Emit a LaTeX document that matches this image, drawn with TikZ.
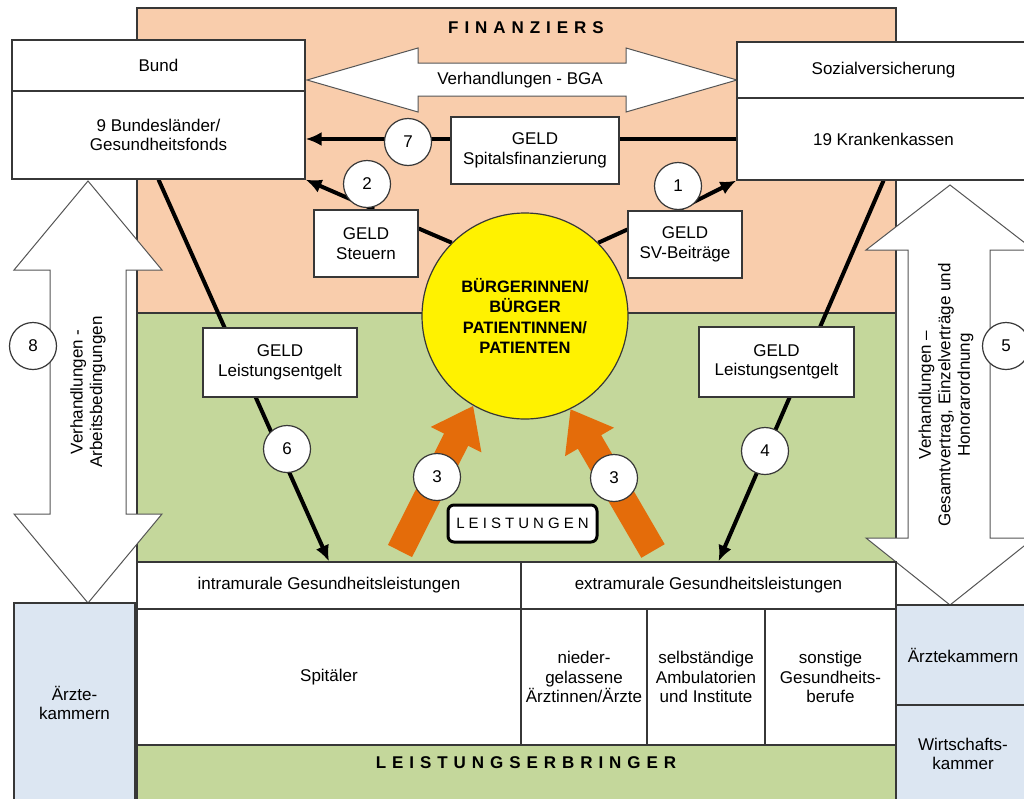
\documentclass[tikz,border=0pt]{standalone}
\usepackage{fontspec}
\setmainfont{Liberation Sans}
\usetikzlibrary{arrows.meta}
\definecolor{peach}{RGB}{249,205,172}
\definecolor{leaf}{RGB}{196,215,155}
\definecolor{steel}{RGB}{220,230,242}
\definecolor{orng}{RGB}{228,108,10}
\definecolor{edge}{RGB}{55,55,55}
\newcommand\diagfont{\fontsize{17}{19.5}\selectfont}
\newcommand\headfont{\fontsize{17}{20}\selectfont\bfseries\addfontfeature{LetterSpace=35}}
\newcommand\leisfont{\fontsize{15}{18}\selectfont\addfontfeature{LetterSpace=27}}
\pgfdeclarelayer{bg}
\pgfdeclarelayer{lines}
\pgfsetlayers{bg,lines,main}
\begin{document}
\begin{tikzpicture}[x=1pt,y=-1pt,
  box/.style={draw=edge, line width=1.2pt, fill=white, align=center, inner sep=1pt, font=\diagfont},
  num/.style={circle, draw=edge, line width=1.2pt, fill=white, minimum size=47pt, inner sep=0pt, font=\diagfont},
  geld/.style={line width=4pt, black},
  geldarrow/.style={geld, -{Latex[length=16pt,width=14pt]}},
  bigarrow/.style={draw=edge!85, line width=1pt, fill=white, line join=miter},
  orangearrow/.style={line width=27pt, orng, -{Triangle[length=38pt,width=54pt]}},
  txt/.style={align=center, font=\diagfont, inner sep=0pt}
]
\useasboundingbox (0,0) rectangle (1024,798);
\begin{pgfonlayer}{bg}
\fill[white] (0,0) rectangle (1024,798);
\node[draw=edge, line width=1.2pt, fill=peach, minimum width=759pt, minimum height=305pt, inner sep=0pt] (fin) at (516.5,160.5) {};
\node[draw=edge, line width=1.2pt, fill=leaf, minimum width=759pt, minimum height=489pt, inner sep=0pt] (lei) at (516.5,557.5) {};
% Verhandlungen BGA
\draw[bigarrow] (307,80) -- (418,48) -- (418,63) -- (626,63) -- (626,48) -- (737,80) -- (626,112) -- (626,96) -- (418,96) -- (418,112) -- cycle;
% left vertical arrow
\draw[bigarrow] (88,181) -- (162,270) -- (126,270) -- (126,514) -- (162,514) -- (88,603) -- (14,514) -- (50,514) -- (50,270) -- (14,270) -- cycle;
% right vertical arrow
\draw[bigarrow] (950,185) -- (1034,250) -- (990,250) -- (990,538) -- (1034,538) -- (950,605) -- (866,538) -- (908,538) -- (908,250) -- (866,250) -- cycle;
\end{pgfonlayer}

\node[font=\headfont, inner sep=0pt] (fintitle) at (526,27.5) {FINANZIERS};
\node[font=\headfont, inner sep=0pt] (leititle) at (526,763) {LEISTUNGSERBRINGER};
\node[txt] (bgatext) at (520,80) {Verhandlungen - BGA};
\node[txt, rotate=90] (lefttext) at (88,392) {Verhandlungen -\\Arbeitsbedingungen};
\node[txt, rotate=90] (righttext) at (946,395) {Verhandlungen –\\Gesamtvertrag, Einzelverträge und\\Honorarordnung};

% top boxes
\node[box, minimum width=293pt, minimum height=51pt] (bundtop) at (158.5,65.5) {Bund};
\node[box, minimum width=293pt, minimum height=88pt] (bundbot) at (158.5,135) {9 Bundesländer/\\Gesundheitsfonds};
\node[box, minimum width=293pt, minimum height=56pt] (soztop) at (883.5,70) {Sozialversicherung};
\node[box, minimum width=293pt, minimum height=82pt] (sozbot) at (883.5,139) {19 Krankenkassen};

% GELD boxes
\node[box, minimum width=168pt, minimum height=67pt] (spitals) at (535,150.5) {GELD\\Spitalsfinanzierung};
\node[box, minimum width=104pt, minimum height=67pt] (steuern) at (366,243.5) {GELD\\Steuern};
\node[box, minimum width=114pt, minimum height=67pt] (svb) at (685,244.5) {GELD\\SV-Beiträge};
\node[box, minimum width=154pt, minimum height=69pt] (leL) at (280,362.5) {GELD\\Leistungsentgelt};
\node[box, minimum width=155pt, minimum height=70pt] (leR) at (776.5,362) {GELD\\Leistungsentgelt};

% citizens
\node[circle, draw=edge, line width=1.2pt, fill=yellow, minimum size=206pt, inner sep=0pt, align=center, font=\fontsize{16.5}{20.5}\selectfont\bfseries] (buerger) at (525,316) {BÜRGERINNEN/\\BÜRGER\\PATIENTINNEN/\\PATIENTEN};

% bottom boxes
\node[box, minimum width=384pt, minimum height=47pt] (intra) at (329,585.5) {intramurale Gesundheitsleistungen};
\node[box, minimum width=375pt, minimum height=47pt] (extra) at (708.5,585.5) {extramurale Gesundheitsleistungen};
\node[box, minimum width=384pt, minimum height=136pt] (spit) at (329,677) {Spitäler};
\node[box, minimum width=126pt, minimum height=136pt] (nied) at (584,677) {nieder-\\gelassene\\Ärztinnen/Ärzte};
\node[box, minimum width=118pt, minimum height=136pt] (selb) at (706,677) {selbständige\\Ambulatorien\\und Institute};
\node[box, minimum width=131pt, minimum height=136pt] (sons) at (830.5,677) {sonstige\\Gesundheits-\\berufe};

% chambers
\node[box, fill=steel, minimum width=121pt, minimum height=200pt] (aekL) at (74.5,703) {Ärzte-\\kammern};
\node[box, fill=steel, minimum width=134pt, minimum height=100pt] (aekR) at (963,655) {Ärztekammern};
\node[box, fill=steel, minimum width=134pt, minimum height=98pt] (wk) at (963,754) {Wirtschafts-\\kammer};

% Leistungen label
\node[draw=black, line width=3pt, rounded corners=6pt, fill=white, minimum width=149pt, minimum height=37pt, inner sep=0pt, font=\leisfont] (leist) at (522.5,523.5) {LEISTUNGEN};

% connectors
\coordinate (t7) at ([yshift=-4pt]bundbot.east);
\coordinate (tailL) at (400,551);
\coordinate (tailR) at (653,551);
\begin{pgfonlayer}{lines}
\draw[geldarrow] (spitals.west |- t7) -- (t7);
\draw[geld] (spitals.east |- sozbot.west) -- (sozbot.west);
\draw[geldarrow] ([xshift=8pt]steuern.north) -- (bundbot.south east);
\draw[geld] ([yshift=15pt]steuern.east) -- (buerger.135);
\draw[geld] (buerger.45) -- ([yshift=15pt]svb.west);
\draw[geldarrow] ([xshift=-8pt]svb.north) -- (sozbot.south west);
\draw[geldarrow] (bundbot.south) -- (intra.north);
\draw[geldarrow] (sozbot.south) -- ([xshift=10pt]extra.north);
\draw[orangearrow] (tailL) -- (buerger.240);
\draw[orangearrow] (tailR) -- (buerger.296);
\end{pgfonlayer}

% numbers
\node[num] (n1) at (678,186) {1};
\node[num] (n2) at (367,184) {2};
\node[num] (n3a) at (437,477) {3};
\node[num] (n3b) at (614,478) {3};
\node[num] (n4) at (765,451) {4};
\node[num] (n5) at (1006,346) {5};
\node[num] (n6) at (287,449) {6};
\node[num] (n7) at (408,142) {7};
\node[num] (n8) at (33,346) {8};
\end{tikzpicture}
\end{document}
